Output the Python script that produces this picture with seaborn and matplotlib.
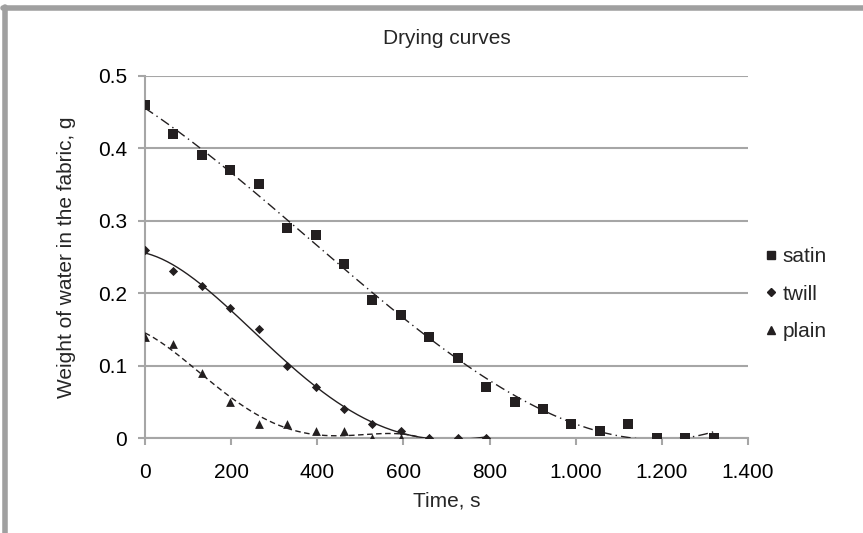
#Drying curves - recreated with seaborn

import numpy as np
import pandas as pd
import seaborn as sns
import matplotlib.pyplot as plt
from matplotlib.ticker import FuncFormatter, MultipleLocator
from matplotlib.lines import Line2D

#Data (time step ~66 s)
time_satin = [0, 66, 132, 198, 264, 330, 396, 462, 528, 594, 660, 726, 792, 858, 924, 990, 1056, 1122, 1188, 1254, 1320]
satin = [0.46, 0.42, 0.39, 0.37, 0.35, 0.29, 0.28, 0.24, 0.19, 0.17, 0.14, 0.11, 0.07, 0.05, 0.04, 0.02, 0.01, 0.02, 0.0, 0.0, 0.0]

time_twill = [0, 66, 132, 198, 264, 330, 396, 462, 528, 594, 660, 726, 792]
twill = [0.26, 0.23, 0.21, 0.18, 0.15, 0.10, 0.07, 0.04, 0.02, 0.01, 0.0, 0.0, 0.0]

time_plain = [0, 66, 132, 198, 264, 330, 396, 462, 528, 594, 660]
plain = [0.14, 0.13, 0.09, 0.05, 0.02, 0.02, 0.01, 0.01, 0.0, 0.0, 0.0]

fabrics = ['satin', 'twill', 'plain']
markers = {'satin': 's', 'twill': 'D', 'plain': '^'}
marker_sizes = {'satin': 45, 'twill': 22, 'plain': 40}
trend_styles = {'satin': (0, (7, 3, 1, 3)), 'twill': '-', 'plain': (0, (4, 2.5))}
trend_order = {'satin': 3, 'twill': 4, 'plain': 4}

df = pd.concat([
    pd.DataFrame({'time': time_satin, 'weight': satin, 'fabric': 'satin'}),
    pd.DataFrame({'time': time_twill, 'weight': twill, 'fabric': 'twill'}),
    pd.DataFrame({'time': time_plain, 'weight': plain, 'fabric': 'plain'}),
])

sns.set_style('white')
plt.rcParams['font.family'] = ['Liberation Sans', 'DejaVu Sans']

ink = '#231f20'
grid_col = '#a6a6a6'
fs = 15

fig = plt.figure(figsize=(8.63, 5.33), dpi=100)
ax = fig.add_axes([0.168, 0.178, 0.6987, 0.68])

#polynomial trendlines (like Excel)
for f in fabrics:
    d = df[df['fabric'] == f]
    coef = np.polyfit(d['time'], d['weight'], trend_order[f])
    xs = np.linspace(d['time'].min(), d['time'].max(), 200)
    ax.plot(xs, np.polyval(coef, xs), color=ink, lw=1.0, linestyle=trend_styles[f], zorder=3)

#data points
for f in fabrics:
    d = df[df['fabric'] == f]
    sns.scatterplot(data=d, x='time', y='weight', marker=markers[f], s=marker_sizes[f],
                    color=ink, edgecolor=ink, linewidth=0, ax=ax, zorder=4, legend=False)

ax.set_xlim(0, 1400)
ax.set_ylim(0, 0.5)
ax.xaxis.set_major_locator(MultipleLocator(200))
ax.yaxis.set_major_locator(MultipleLocator(0.1))
ax.xaxis.set_major_formatter(FuncFormatter(lambda v, p: '{:,.0f}'.format(v).replace(',', '.')))
ax.yaxis.set_major_formatter(FuncFormatter(lambda v, p: '0' if v == 0 else '{:.1f}'.format(v)))

ax.grid(axis='y', color=grid_col, lw=1.5)
ax.grid(axis='x', visible=False)
for s in ['top', 'right']:
    ax.spines[s].set_visible(False)
for s in ['left', 'bottom']:
    ax.spines[s].set_color(grid_col)
    ax.spines[s].set_linewidth(1.5)
ax.tick_params(axis='both', which='major', length=5, width=1.5, color=grid_col,
               labelsize=fs, labelcolor='black', direction='out')
ax.tick_params(axis='y', left=True, pad=8)
ax.tick_params(axis='x', bottom=True, pad=13)

ax.set_xlabel('Time, s', fontsize=fs, labelpad=7)
ax.set_ylabel('Weight of water in the fabric, g', fontsize=fs, labelpad=16)
ax.set_title('Drying curves', fontsize=fs, pad=23)

handles = [Line2D([], [], linestyle='none', marker=markers[f], color=ink,
                  markersize={'satin': 5.5, 'twill': 4, 'plain': 5.5}[f]) for f in fabrics]
ax.legend(handles, fabrics, loc='center left', bbox_to_anchor=(1.004, 0.397), frameon=False,
          fontsize=fs, handlelength=0.6, handletextpad=0.25, labelspacing=0.9, borderaxespad=0.3)

#grey frame on top and left
fig.add_artist(Line2D([0.006, 0.006], [0.0, 0.987], transform=fig.transFigure, color='#a0a0a0', lw=4))
fig.add_artist(Line2D([0.004, 1.0], [0.985, 0.985], transform=fig.transFigure, color='#a0a0a0', lw=4))

fig.savefig('out.png', dpi=100)
